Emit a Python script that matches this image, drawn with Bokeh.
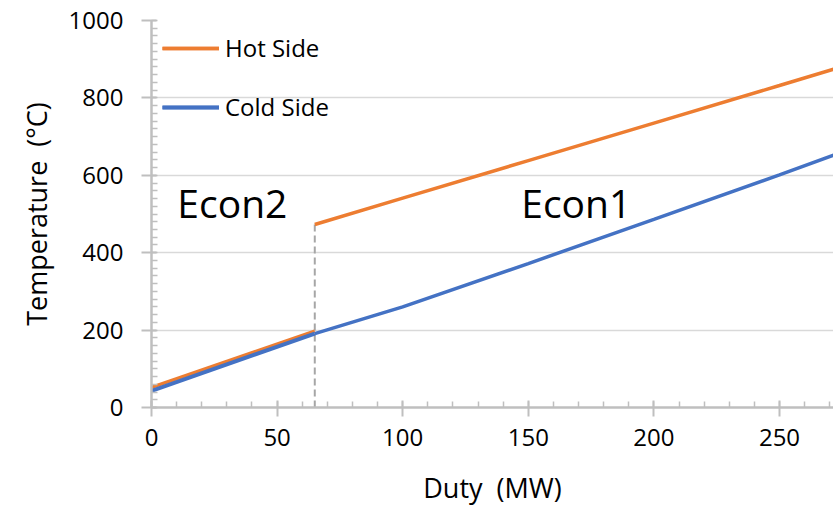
from bokeh.plotting import figure
from bokeh.models import Range1d, FixedTicker, Legend, LegendItem, Label
from bokeh.embed import file_html
from bokeh.resources import INLINE

# ---- data ----
duty_econ2 = [0, 65]
hot_econ2 = [52, 197]
cold_econ2 = [43, 191]

duty_econ1 = [65, 100, 150, 200, 250, 272]
hot_econ1 = [473, 541, 638, 735, 832, 875]
cold_econ1 = [191, 260, 372, 486, 601, 653]

split_duty = 65
x_major = [0, 50, 100, 150, 200, 250]
x_minor = list(range(0, 271, 10))
y_major = [0, 200, 400, 600, 800, 1000]
y_minor = list(range(0, 1001, 20))
section_names = ["Econ2", "Econ1"]
section_x = [10.3, 147.2]
section_y = [529, 529]

HOT = "#ED7D31"
COLD = "#4472C4"
FONT = "Open Sans"
AXC = "#bfbfbf"

p = figure(width=833, height=508, output_backend="svg", toolbar_location=None,
           x_range=Range1d(0, 271.5), y_range=Range1d(0, 1000),
           min_border_left=151, min_border_right=0, min_border_top=20,
           min_border_bottom=99)
p.outline_line_color = None
p.background_fill_color = "white"
p.border_fill_color = "white"

# dashed separator
p.line([split_duty, split_duty], [0, hot_econ1[0]], line_color="#a6a6a6",
       line_width=2, line_dash="7 4")

r_h2 = p.line(duty_econ2, hot_econ2, line_color=HOT, line_width=3.5)
r_c2 = p.line(duty_econ2, cold_econ2, line_color=COLD, line_width=4)
r_h1 = p.line(duty_econ1, hot_econ1, line_color=HOT, line_width=3.5)
r_c1 = p.line(duty_econ1, cold_econ1, line_color=COLD, line_width=3.5)

for name, xx, yy in zip(section_names, section_x, section_y):
    p.add_layout(Label(x=xx, y=yy, text=name, text_font=FONT,
                       text_font_size="39px", text_color="black",
                       text_baseline="alphabetic", text_align="left"))

legend = Legend(items=[LegendItem(label="Hot Side", renderers=[r_h2, r_h1]),
                       LegendItem(label="Cold Side", renderers=[r_c2, r_c1])],
                location="top_left", margin=11, padding=12,
                border_line_color=None, background_fill_alpha=0,
                label_text_font=FONT, label_text_font_size="24px",
                label_text_color="black",
                glyph_width=57, glyph_height=30, label_height=30,
                spacing=26, label_standoff=6)
p.add_layout(legend)

# axes
for ax in (p.xaxis[0], p.yaxis[0]):
    ax.axis_line_color = AXC
    ax.axis_line_width = 2.5
    ax.major_tick_line_color = AXC
    ax.major_tick_line_width = 2
    ax.minor_tick_line_color = AXC
    ax.minor_tick_line_width = 1.5
    ax.major_label_text_font = FONT
    ax.major_label_text_font_size = "24px"
    ax.major_label_text_color = "black"
    ax.axis_label_text_font = FONT
    ax.axis_label_text_font_size = "27px"
    ax.axis_label_text_font_style = "normal"
    ax.axis_label_text_color = "black"

p.xaxis.ticker = FixedTicker(ticks=x_major, minor_ticks=x_minor)
p.yaxis.ticker = FixedTicker(ticks=y_major, minor_ticks=y_minor)
p.xaxis.axis_label = "Duty\u00a0\u00a0(MW)"
p.yaxis.axis_label = "Temperature\u00a0\u00a0(°C)"
p.xaxis.major_tick_in = 7
p.xaxis.major_tick_out = 9
p.xaxis.minor_tick_in = 6
p.xaxis.minor_tick_out = 0
p.xaxis.major_label_standoff = 12
p.xaxis.axis_label_standoff = 20
p.yaxis.major_tick_in = 5
p.yaxis.major_tick_out = 10
p.yaxis.minor_tick_in = 6
p.yaxis.minor_tick_out = 0
p.yaxis.major_label_standoff = 18
p.yaxis.axis_label_standoff = 11

p.xgrid.visible = False
p.ygrid.ticker = FixedTicker(ticks=y_major)
p.ygrid.grid_line_color = "#d9d9d9"
p.ygrid.grid_line_width = 1.5

open("out.html", "w").write(file_html(p, INLINE))
